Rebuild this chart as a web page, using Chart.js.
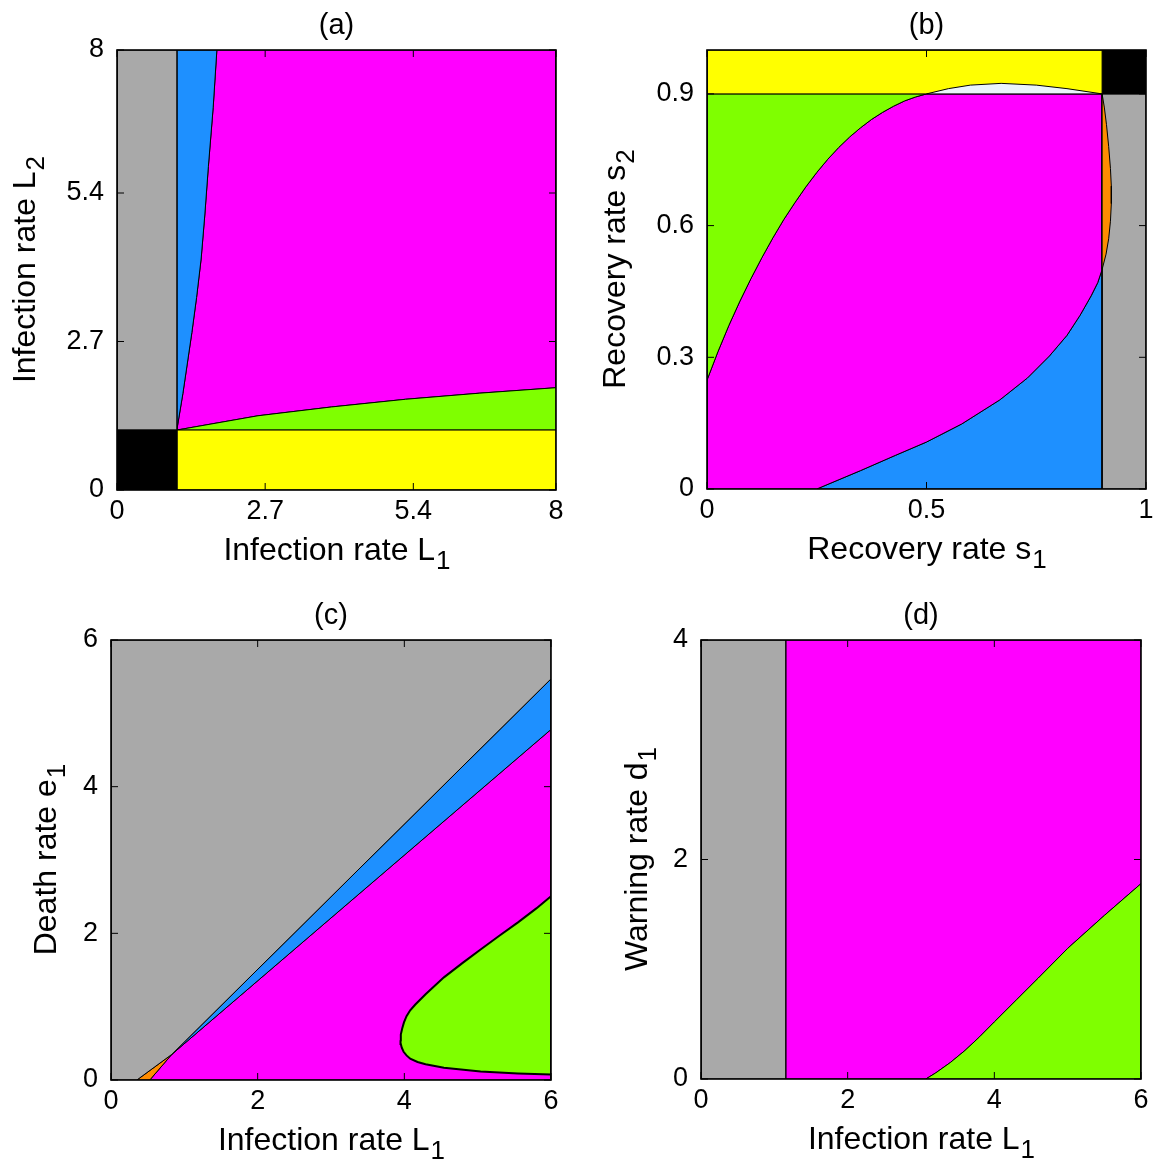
<!DOCTYPE html>
<html lang="en">
<head>
<meta charset="UTF-8">
<title>Phase diagrams</title>
<script src="https://cdn.jsdelivr.net/npm/chart.js@4.4.1/dist/chart.umd.min.js"></script>
<style>
  body { margin: 0; background: #fff; }
  #page { position: relative; width: 1155px; height: 1159px; }
  canvas { position: absolute; }
</style>
</head>
<body>
<div id="page">
  <canvas id="chartA" width="578" height="569" style="left:0;top:0"></canvas>
  <canvas id="chartB" width="575" height="568" style="left:580px;top:0"></canvas>
  <canvas id="chartC" width="578" height="569" style="left:0;top:590px"></canvas>
  <canvas id="chartD" width="575" height="568" style="left:580px;top:590px"></canvas>
</div>
<script>
// ---- colours
const GRAY = '#a9a9a9', BLUE = '#1e90ff', MAGENTA = '#ff00ff', GREEN = '#7fff00';
const YELLOW = '#ffff00', ORANGE = '#ff8c00', BLACK = '#000000', PALE = '#eaf4fc';

// ---- panel (a): L1 vs L2
const aTicks = [0, 2.7, 5.4, 8];
const aMax = 8;
const aCrit = 1.09;                       // threshold for L1 and L2
const aBlueEdge = [[1.09, 1.09], [1.2, 1.75], [1.364, 2.86], [1.45, 3.5], [1.533, 4.2],
                   [1.6, 5.0], [1.665, 5.88], [1.753, 6.96], [1.82, 8]];
const aGreenEdge = [[1.09, 1.09], [2.57, 1.35], [3.91, 1.51], [5.26, 1.65], [6.6, 1.76], [8, 1.86]];

// ---- panel (b): s1 vs s2
const bXTicks = [0, 0.5, 1];
const bYTicks = [0, 0.3, 0.6, 0.9];
const bCrit = 0.9;
const bGreenEdge = [[0, 0.248], [0.025, 0.313], [0.05, 0.373], [0.075, 0.428], [0.1, 0.479],
                    [0.125, 0.527], [0.15, 0.572], [0.175, 0.614], [0.2, 0.652], [0.225, 0.688],
                    [0.25, 0.721], [0.275, 0.751], [0.3, 0.778], [0.325, 0.802], [0.35, 0.823],
                    [0.375, 0.842], [0.4, 0.858], [0.425, 0.872], [0.45, 0.884], [0.475, 0.893],
                    [0.5, 0.9]];
const bBlueEdge = [[0.25, 0], [0.35, 0.042], [0.43, 0.077], [0.5, 0.107], [0.58, 0.148],
                   [0.667, 0.203], [0.73, 0.253], [0.78, 0.303], [0.82, 0.35], [0.85, 0.396],
                   [0.875, 0.44], [0.89, 0.47], [0.9, 0.5]];
const bLensTop = [[0.5, 0.9], [0.55, 0.912], [0.6, 0.92], [0.67, 0.924], [0.75, 0.92],
                  [0.82, 0.912], [0.9, 0.9]];
const bOrangeEdge = [[0.9, 0.9], [0.905, 0.87], [0.91, 0.83], [0.915, 0.78], [0.919, 0.73],
                     [0.921, 0.69], [0.921, 0.65], [0.919, 0.61], [0.915, 0.57], [0.909, 0.535],
                     [0.9, 0.5]];

// ---- panel (c): L1 vs e1
const cTicks = [0, 2, 4, 6];
const cMax = 6;
const cGrayEdge = [[0.353, 0], [0.83, 0.35], [6, 5.47]];
const cBlueEdge = [[0.83, 0.35], [6, 4.78]];
const cOrangeFoot = [0.529, 0];
const cGreenUpper = [[3.948, 0.543], [3.952, 0.62], [3.97, 0.7], [3.995, 0.785], [4.03, 0.87],
                     [4.08, 0.95], [4.15, 1.03], [4.29, 1.17], [4.54, 1.4], [4.8, 1.6],
                     [5.04, 1.78], [5.3, 1.97], [5.55, 2.15], [5.8, 2.34], [6, 2.505]];
const cGreenLower = [[3.948, 0.543], [3.952, 0.49], [3.965, 0.44], [3.99, 0.385], [4.03, 0.335],
                     [4.08, 0.29], [4.18, 0.245], [4.29, 0.216], [4.54, 0.166], [5.04, 0.116],
                     [5.55, 0.09], [6, 0.075]];

// ---- panel (d): L1 vs d1
const dXTicks = [0, 2, 4, 6];
const dYTicks = [0, 2, 4];
const dXMax = 6, dYMax = 4;
const dCrit = 1.155;
const dGreenEdge = [[3.065, 0], [3.2, 0.055], [3.4, 0.15], [3.6, 0.26], [3.8, 0.385], [4.0, 0.52],
                    [4.3, 0.72], [4.6, 0.92], [5.0, 1.19], [5.5, 1.49], [6, 1.78]];

const FAMILY = "'Liberation Sans', Arial, sans-serif";
Chart.defaults.font.family = FAMILY;
Chart.defaults.color = '#000';

const rev = a => a.slice().reverse();

function region(pts, color, width) {
    const data = pts.concat([pts[0]]).map(p => ({x: p[0], y: p[1]}));
    return {
        data: data,
        showLine: true,
        fill: 'shape',
        backgroundColor: color,
        borderColor: '#000',
        borderWidth: width || 1,
        pointRadius: 0,
        tension: 0
    };
}

// frame round the plot and small inward ticks on every side
const frame = {
    id: 'frame',
    afterDatasetsDraw(chart) {
        const {ctx, chartArea: a} = chart;
        const x = chart.scales.x, y = chart.scales.y;
        const t = 7;
        ctx.save();
        ctx.strokeStyle = '#000';
        ctx.lineWidth = 1;
        ctx.beginPath();
        x.ticks.forEach(tk => {
            const px = x.getPixelForValue(tk.value);
            ctx.moveTo(px, a.bottom); ctx.lineTo(px, a.bottom - t);
            ctx.moveTo(px, a.top); ctx.lineTo(px, a.top + t);
        });
        y.ticks.forEach(tk => {
            const py = y.getPixelForValue(tk.value);
            ctx.moveTo(a.left, py); ctx.lineTo(a.left + t, py);
            ctx.moveTo(a.right, py); ctx.lineTo(a.right - t, py);
        });
        ctx.stroke();
        ctx.lineWidth = 1.6;
        ctx.strokeRect(a.left, a.top, a.right - a.left, a.bottom - a.top);
        ctx.restore();
    }
};

// axis titles with a real subscript (e.g. "Infection rate L" + "1")
const axisTitles = {
    id: 'axisTitles',
    afterDraw(chart, args, opts) {
        const {ctx, chartArea: a} = chart;
        const size = 32, subSize = 26;
        function put(parts, cx, base) {
            ctx.font = size + 'px ' + FAMILY;
            const w1 = ctx.measureText(parts[0]).width;
            ctx.font = subSize + 'px ' + FAMILY;
            const w2 = ctx.measureText(parts[1]).width;
            const x0 = cx - (w1 + w2) / 2;
            ctx.font = size + 'px ' + FAMILY;
            ctx.fillText(parts[0], x0, base);
            ctx.font = subSize + 'px ' + FAMILY;
            ctx.fillText(parts[1], x0 + w1 + 1, base + 9);
        }
        ctx.save();
        ctx.fillStyle = '#000';
        ctx.textAlign = 'left';
        ctx.textBaseline = 'alphabetic';
        put(opts.x, (a.left + a.right) / 2, a.bottom + 59 + 0.358 * size);
        ctx.translate(opts.yCaps + 0.358 * size, (a.top + a.bottom) / 2);
        ctx.rotate(-Math.PI / 2);
        put(opts.y, 0, 0);
        ctx.restore();
    }
};

function makeChart(id, cfg) {
    return new Chart(document.getElementById(id), {
        type: 'scatter',
        data: {datasets: cfg.datasets},
        options: {
            responsive: false,
            animation: false,
            layout: {padding: {left: 0, right: cfg.padRight, top: 0, bottom: 0}},
            plugins: {
                legend: {display: false},
                tooltip: {enabled: false},
                title: {
                    display: true,
                    text: cfg.title,
                    fullSize: false,
                    font: {size: 29, weight: 'normal', lineHeight: 1},
                    padding: {top: 11, bottom: 10}
                },
                axisTitles: {x: cfg.xTitle, y: cfg.yTitle, yCaps: cfg.yCaps}
            },
            scales: {
                x: {
                    type: 'linear',
                    min: cfg.xMin, max: cfg.xMax,
                    grid: {display: false, drawTicks: false},
                    border: {display: false},
                    afterBuildTicks: s => { s.ticks = cfg.xTicks.map(v => ({value: v})); },
                    afterFit: s => { s.height = 79; s.paddingLeft = 0; s.paddingRight = 0; },
                    ticks: {font: {size: 27}, padding: 5, maxRotation: 0, autoSkip: false,
                            callback: v => String(v)}
                },
                y: {
                    type: 'linear',
                    min: cfg.yMin, max: cfg.yMax,
                    grid: {display: false, drawTicks: false},
                    border: {display: false},
                    afterBuildTicks: s => { s.ticks = cfg.yTicks.map(v => ({value: v})); },
                    afterFit: s => { s.width = cfg.yWidth; s.paddingTop = 0; s.paddingBottom = 0; },
                    ticks: {font: {size: 27}, padding: 13, autoSkip: false,
                            callback: v => String(v)}
                }
            }
        },
        plugins: [frame, axisTitles]
    });
}

// (a)
makeChart('chartA', {
    title: '(a)', xTitle: ['Infection rate L', '1'], yTitle: ['Infection rate L', '2'],
    xMin: 0, xMax: aMax, yMin: 0, yMax: aMax, xTicks: aTicks, yTicks: aTicks,
    yWidth: 117, padRight: 22, yCaps: 24,
    datasets: [
        region([[0, 0], [aCrit, 0], [aCrit, aCrit], [0, aCrit]], BLACK),
        region([[0, aCrit], [aCrit, aCrit], [aCrit, aMax], [0, aMax]], GRAY),
        region([[aCrit, 0], [aMax, 0], [aMax, aCrit], [aCrit, aCrit]], YELLOW),
        region([[aCrit, aCrit], [aMax, aCrit]].concat(rev(aGreenEdge)), GREEN),
        region(aBlueEdge.concat([[aCrit, aMax]]), BLUE),
        region(aBlueEdge.concat([[aMax, aMax]], rev(aGreenEdge)), MAGENTA)
    ]
});

// (b)
makeChart('chartB', {
    title: '(b)', xTitle: ['Recovery rate s', '1'], yTitle: ['Recovery rate s', '2'],
    xMin: 0, xMax: 1, yMin: 0, yMax: 1, xTicks: bXTicks, yTicks: bYTicks,
    yWidth: 127, padRight: 9, yCaps: 34,
    datasets: [
        region(bLensTop, PALE),
        region(bOrangeEdge, ORANGE),
        region([[0, bCrit], [bCrit, bCrit], [bCrit, 1], [0, 1]], YELLOW),
        region([[bCrit, bCrit], [1, bCrit], [1, 1], [bCrit, 1]], BLACK),
        region([[bCrit, 0], [1, 0], [1, bCrit], [bCrit, bCrit]], GRAY),
        region(bGreenEdge.concat([[0, bCrit]]), GREEN),
        region([[0, 0]].concat(bBlueEdge, [[bCrit, bCrit]], rev(bGreenEdge)), MAGENTA),
        region([[bCrit, 0]].concat(rev(bBlueEdge)), BLUE)
    ]
});

// (c)
makeChart('chartC', {
    title: '(c)', xTitle: ['Infection rate L', '1'], yTitle: ['Death rate e', '1'],
    xMin: 0, xMax: cMax, yMin: 0, yMax: cMax, xTicks: cTicks, yTicks: cTicks,
    yWidth: 111, padRight: 27, yCaps: 45,
    datasets: [
        region(cGreenUpper.concat(rev(cGreenLower)), GREEN, 2),
        region([[0, 0]].concat(cGrayEdge, [[cMax, cMax], [0, cMax]]), GRAY),
        region([cGrayEdge[0], cGrayEdge[1], cOrangeFoot], ORANGE),
        region([cGrayEdge[1], cGrayEdge[2], cBlueEdge[1]], BLUE),
        region([cOrangeFoot].concat(cBlueEdge, [[cMax, 0]]), MAGENTA)
    ]
});

// (d)
makeChart('chartD', {
    title: '(d)', xTitle: ['Infection rate L', '1'], yTitle: ['Warning rate d', '1'],
    xMin: 0, xMax: dXMax, yMin: 0, yMax: dYMax, xTicks: dXTicks, yTicks: dYTicks,
    yWidth: 121, padRight: 14, yCaps: 56,
    datasets: [
        region(dGreenEdge.concat([[dXMax, 0]]), GREEN),
        region([[0, 0], [dCrit, 0], [dCrit, dYMax], [0, dYMax]], GRAY),
        region([[dCrit, 0]].concat(dGreenEdge, [[dXMax, dYMax], [dCrit, dYMax]]), MAGENTA)
    ]
});
</script>
</body>
</html>
